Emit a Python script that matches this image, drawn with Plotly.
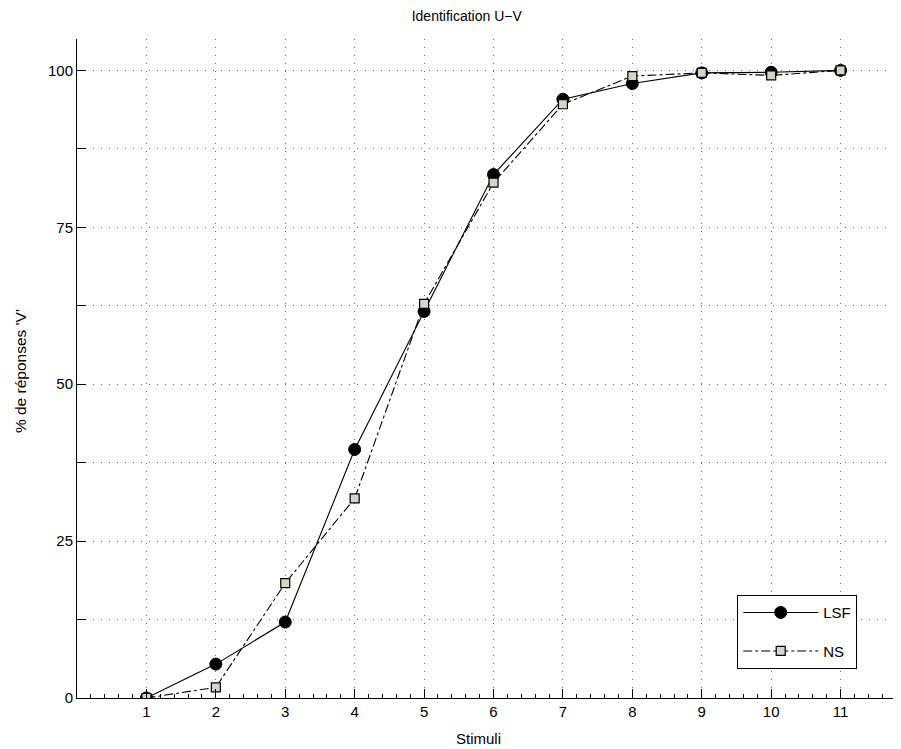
import plotly.graph_objects as go

stimuli = [1, 2, 3, 4, 5, 6, 7, 8, 9, 10, 11]
lsf = [0, 5.4, 12.1, 39.6, 61.6, 83.4, 95.4, 97.9, 99.6, 99.7, 100]
ns = [0, 1.7, 18.3, 31.8, 62.8, 82.1, 94.6, 99.1, 99.6, 99.2, 100]

y_tickvals = [0, 12.5, 25, 37.5, 50, 62.5, 75, 87.5, 100]
y_ticktext = ["0", "", "25", "", "50", "", "75", "", "100"]
x_tickvals = [1, 2, 3, 4, 5, 6, 7, 8, 9, 10, 11]

font = "Liberation Sans, Arial, Helvetica, sans-serif"

fig = go.Figure()
fig.add_trace(go.Scatter(
    x=stimuli, y=lsf, name="LSF", mode="lines+markers", legendgroup="a",
    line=dict(color="black", width=1.1, dash="solid"),
    marker=dict(symbol="circle", size=12, color="black",
                line=dict(color="black", width=1)),
))
fig.add_trace(go.Scatter(
    x=stimuli, y=ns, name="NS", mode="lines+markers", legendgroup="b",
    line=dict(color="black", width=1.1, dash="dashdot"),
    marker=dict(symbol="square", size=9, color="#d4d4c8",
                line=dict(color="black", width=1.2)),
))

fig.update_layout(
    width=901, height=749,
    margin=dict(l=69, r=8, t=31, b=59),
    paper_bgcolor="white", plot_bgcolor="white",
    font=dict(family=font, size=14, color="black"),
    title=dict(text="Identification U\u2212V", x=0.473, xref="paper",
               y=1 - 8 / 749, yref="container", xanchor="center", yanchor="middle",
               font=dict(size=14, family=font, color="black")),
    showlegend=True,
    legend=dict(x=0.801, y=0.044, xanchor="left", yanchor="bottom",
                bgcolor="white", bordercolor="black", borderwidth=1.2,
                font=dict(size=15, family=font), tracegroupgap=16,
                itemwidth=75),
    annotations=[
        dict(text="Stimuli", x=0.4867, y=-40 / 659, xref="paper", yref="paper",
             xanchor="center", yanchor="middle", showarrow=False,
             font=dict(size=15, family=font, color="black")),
        dict(text="% de réponses 'V'", x=-0.0692, y=0.496, xref="paper", yref="paper",
             xanchor="center", yanchor="middle", showarrow=False, textangle=-90,
             font=dict(size=15.5, family=font, color="black")),
    ],
)

fig.update_xaxes(
    range=[0, 11.87], tickmode="array", tickvals=x_tickvals,
    showline=True, linecolor="black", linewidth=1,
    ticks="inside", ticklen=9, tickcolor="black", tickwidth=1,
    showgrid=True, gridcolor="#666666", griddash="1px,7px", gridwidth=1,
    zeroline=False,
    minor=dict(dtick=0.2, tick0=0, ticks="inside", ticklen=4, tickcolor="black", showgrid=False),
    tickfont=dict(size=15, family=font),
)
fig.update_yaxes(
    range=[0, 105], tickmode="array", tickvals=y_tickvals, ticktext=y_ticktext,
    showline=True, linecolor="black", linewidth=1,
    ticks="inside", ticklen=9, tickcolor="black", tickwidth=1,
    showgrid=True, gridcolor="#666666", griddash="1px,7px", gridwidth=1,
    zeroline=False,
    tickfont=dict(size=15, family=font),
)

fig.write_html("out.html")
